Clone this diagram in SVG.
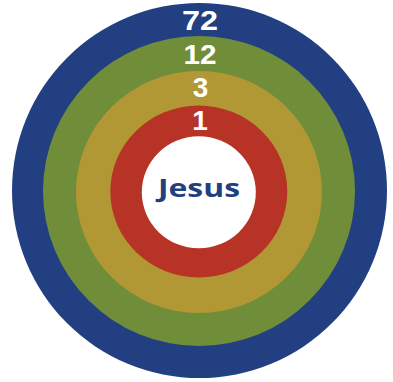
<svg xmlns="http://www.w3.org/2000/svg" width="393" height="382" viewBox="0 0 393 382">
<style>
.num{font-family:"Liberation Sans","Open Sans",sans-serif;font-weight:700;font-size:28px;fill:#ffffff;text-anchor:middle}
.jesus{font-family:"Open Sans","Liberation Sans",sans-serif;font-weight:700;font-size:25px;fill:#21407f;text-anchor:middle}
</style>
<rect width="393" height="382" fill="#ffffff"/>
<g id="ring72">
<ellipse cx="199.5" cy="190.5" rx="187.5" ry="187.5" fill="#224081"/>
<text class="num" x="200" y="30" textLength="36" lengthAdjust="spacingAndGlyphs">72</text>
</g>
<g id="ring12">
<ellipse cx="199" cy="191" rx="156" ry="155" fill="#708d3a"/>
<text class="num" x="200" y="63.5" textLength="33" lengthAdjust="spacingAndGlyphs">12</text>
</g>
<g id="ring3">
<ellipse cx="199" cy="192" rx="123" ry="121" fill="#b29834"/>
<text class="num" x="200.5" y="97">3</text>
</g>
<g id="ring1">
<ellipse cx="198.8" cy="191.5" rx="88.5" ry="86" fill="#b73326"/>
<text class="num" x="200" y="129.5">1</text>
</g>
<g id="jesus">
<ellipse cx="198.8" cy="192.3" rx="57" ry="56" fill="#ffffff"/>
<text class="jesus" x="199" y="197" textLength="82" lengthAdjust="spacingAndGlyphs">Jesus</text>
</g>
</svg>
